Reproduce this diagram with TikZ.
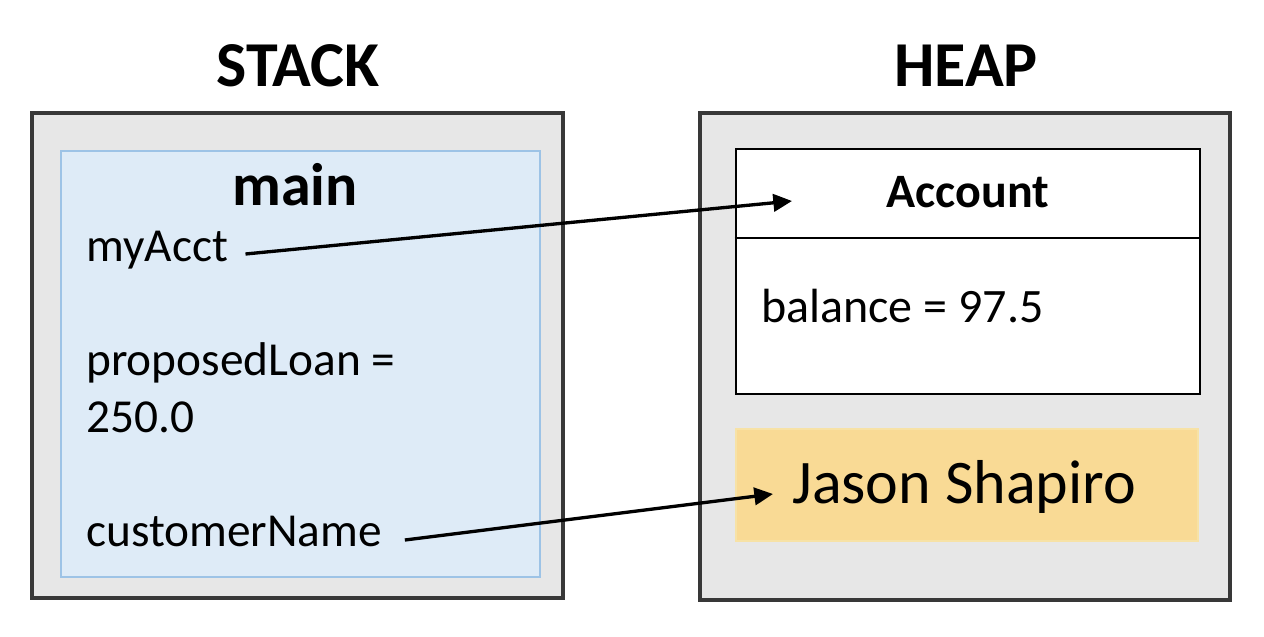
\documentclass[tikz,border=0pt]{standalone}
\usepackage{fontspec}
\setmainfont{Carlito}
\usetikzlibrary{fit,arrows.meta}
\definecolor{boxgray}{HTML}{E7E7E7}
\definecolor{boxedge}{HTML}{383838}
\definecolor{frameblue}{HTML}{DEEBF7}
\definecolor{frameedge}{HTML}{9DC3E6}
\definecolor{stryellow}{HTML}{F9DA95}
\definecolor{stredge}{HTML}{F7E2A6}
\tikzset{
  region/.style={draw=boxedge, fill=boxgray, line width=2.3pt, inner sep=0pt},
  framebox/.style={draw=frameedge, fill=frameblue, line width=1pt, inner sep=0pt},
  objbox/.style={draw=black, fill=white, line width=2.2pt, inner sep=0pt},
  strbox/.style={draw=stredge, fill=stryellow, line width=1pt, inner sep=0pt},
  title/.style={font=\fontsize{48}{54}\selectfont\bfseries, inner sep=0pt, anchor=base},
  frametitle/.style={font=\fontsize{45}{50}\selectfont\bfseries, inner sep=0pt, anchor=base},
  vartext/.style={font=\fontsize{35.5}{40}\selectfont, inner sep=0pt, anchor=base west},
  ref/.style={line width=2.5pt, -{Triangle[length=14pt,width=13pt]}},
}
\begin{document}
\begin{tikzpicture}[x=0.75pt, y=-0.75pt]
\useasboundingbox (0,0) rectangle (1264,636);
% titles
\node[title] (stacktitle) at (298,86) {STACK};
\node[title] (heaptitle) at (966,86) {HEAP};
% stack
\node[region, fit={(32,113) (563,598)}] (stack) {};
\node[framebox, fit={(61,151) (540,577)}] (frame) {};
\node[frametitle] (main) at (295,205) {main};
\node[vartext] (myacct) at (86,261) {myAcct};
\node[vartext] (loan) at (86,375) {proposedLoan =};
\node[vartext] (loanval) at (86,432) {250.0};
\node[vartext] (cname) at (86,546) {customerName};
% heap
\node[region, fit={(700,113) (1230,600)}] (heap) {};
\node[objbox, fit={(736,149) (1200,394)}] (account) {};
\draw[line width=2.2pt] (account.west |- 0,238) coordinate (divl) -- (account.east |- 0,238) coordinate (divr);
\node[font=\fontsize{36}{40}\selectfont\bfseries, inner sep=0pt, anchor=base] (acctitle) at (968,207) {Account};
\node[vartext, font=\fontsize{36}{40}\selectfont] (balance) at (761,322) {balance = 97.5};
\node[strbox, fit={(736,429) (1198,541)}] (jason) {};
\node[font=\fontsize{46.5}{52}\selectfont, inner sep=0pt, anchor=base west] (jasontext) at (792,503) {Jason Shapiro};
% references
\coordinate (t1) at (792,201);
\coordinate (t2) at (773,494);
\draw[ref] ([xshift=13pt]myacct.east |- 0,254) coordinate (s1) -- (t1);
\draw[ref] ([xshift=17pt]cname.east |- 0,540) coordinate (s2) -- (t2);
\end{tikzpicture}
\end{document}
